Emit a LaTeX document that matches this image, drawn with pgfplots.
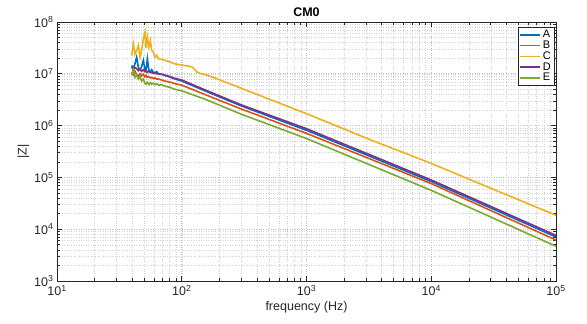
\documentclass[border=0pt]{standalone}
\usepackage{fontspec}
\setmainfont{Liberation Sans}
\usepackage{pgfplots}
\pgfplotsset{compat=1.18}
\definecolor{mA}{rgb}{0,0.447,0.741}
\definecolor{mB}{rgb}{0.85,0.325,0.098}
\definecolor{mC}{rgb}{0.929,0.694,0.125}
\definecolor{mD}{rgb}{0.494,0.184,0.556}
\definecolor{mE}{rgb}{0.466,0.674,0.188}
\definecolor{axc}{rgb}{0.15,0.15,0.15}
\begin{document}
\begin{tikzpicture}
\begin{axis}[name=ax,
  xmode=log, ymode=log, scale only axis, width=499pt, height=259pt,
  xmin=10, xmax=1e5, ymin=1e3, ymax=1e8,
  xtick={10,100,1000,10000,100000},
  xticklabels={10\textsuperscript{1},10\textsuperscript{2},10\textsuperscript{3},10\textsuperscript{4},10\textsuperscript{5}},
  ytick={1e3,1e4,1e5,1e6,1e7,1e8},
  yticklabels={10\textsuperscript{3},10\textsuperscript{4},10\textsuperscript{5},10\textsuperscript{6},10\textsuperscript{7},10\textsuperscript{8}},
  tick label style={font=\fontsize{12.5}{14}\selectfont, text=axc},
  xticklabel style={yshift=-1pt},
  label style={font=\fontsize{12.5}{14}\selectfont, text=axc},
  xlabel style={yshift=2pt},
  ylabel style={yshift=-2pt},
  title style={font=\fontsize{12.5}{14}\selectfont\bfseries, yshift=-4pt},
  title={CM0}, xlabel={frequency (Hz)}, ylabel={|Z|},
  grid=both,
  major grid style={black!25, dotted, line width=0.6pt},
  minor grid style={black!18, dotted, line width=0.5pt},
  axis line style={axc, line width=0.6pt},
  tick style={axc, line width=0.6pt},
  major tick length=5pt, minor tick length=3pt,
  tick align=inside,
  legend style={at={(axis description cs:1,1)}, anchor=north east, xshift=-2pt, yshift=-5pt,
    font=\fontsize{11}{11}\selectfont, draw=axc, inner xsep=1pt, inner ysep=1pt, row sep=-2.3pt},
  legend cell align=left,
  legend image code/.code={\draw[#1] (0pt,0pt) -- (20pt,0pt);},
]
\addplot[mA, line width=1.6pt] coordinates {(39.7,1.45e7) (40.9,1.26e7) (42.2,1.58e7) (43.5,2.09e7) (44.9,1.32e7) (46.3,1.20e7) (47.7,1.38e7) (49.2,1.82e7) (50.7,1.20e7) (51.7,1.12e7) (53.0,1.95e7) (54.6,1.15e7) (56.0,1.10e7) (57.4,1.20e7) (59.2,1.07e7) (61.0,1.05e7) (63.0,1.10e7) (64.9,1.00e7) (69.0,9.77e6) (73.4,9.33e6) (80,8.71e6) (88.3,7.94e6) (100,7.24e6) (150,4.79e6) (300,2.40e6) (1000,8.13e5) (10000,8.32e4) (100000,7.08e3)};
\addlegendentry{A}
\addplot[mB, line width=1.6pt] coordinates {(39.7,1.07e7) (40.9,9.55e6) (42.2,1.12e7) (43.5,9.77e6) (44.9,8.91e6) (46.3,1.00e7) (47.7,9.12e6) (49.2,9.77e6) (50.7,8.71e6) (51.7,9.33e6) (53.0,8.51e6) (54.6,8.91e6) (56.0,8.32e6) (57.4,8.51e6) (59.2,8.13e6) (61.0,8.32e6) (63.0,7.94e6) (64.9,7.94e6) (69.0,7.59e6) (73.4,7.24e6) (80,6.92e6) (88.3,6.46e6) (100,6.03e6) (150,4.07e6) (300,2.09e6) (1000,7.08e5) (10000,7.59e4) (100000,6.17e3)};
\addlegendentry{B}
\addplot[mC, line width=1.6pt] coordinates {(39.7,2.24e7) (40.9,3.80e7) (42.2,2.40e7) (43.5,2.82e7) (44.9,3.55e7) (46.3,2.09e7) (47.7,2.82e7) (49.2,4.79e7) (50.7,6.31e7) (51.7,3.16e7) (53.0,5.13e7) (54.6,3.24e7) (56.0,4.37e7) (57.4,2.82e7) (59.2,2.63e7) (61.0,2.09e7) (63.0,2.29e7) (64.9,1.95e7) (69.0,1.91e7) (73.4,1.82e7) (80,1.70e7) (88.3,1.55e7) (105,1.45e7) (120,1.37e7) (127,1.22e7) (133,1.07e7) (142,1.01e7) (160,9.4e6) (180,8.5e6) (300,5.25e6) (1000,1.70e6) (3000,5.75e5) (10000,1.86e5) (30000,6.17e4) (100000,1.86e4)};
\addlegendentry{C}
\addplot[mD, line width=1.6pt] coordinates {(39.7,1.35e7) (40.9,1.20e7) (42.2,1.32e7) (43.5,1.26e7) (44.9,1.15e7) (46.3,1.23e7) (47.7,1.12e7) (49.2,1.20e7) (50.7,1.10e7) (51.7,1.15e7) (53.0,1.07e7) (54.6,1.12e7) (56.0,1.05e7) (57.4,1.07e7) (59.2,1.02e7) (61.0,1.05e7) (63.0,1.00e7) (64.9,1.00e7) (69.0,9.77e6) (73.4,9.33e6) (80,8.91e6) (88.3,8.13e6) (100,7.59e6) (150,5.01e6) (300,2.51e6) (1000,8.71e5) (10000,8.91e4) (100000,7.59e3)};
\addlegendentry{D}
\addplot[mE, line width=1.6pt] coordinates {(39.7,9.33e6) (40.9,1.20e7) (42.2,8.51e6) (43.5,9.55e6) (44.9,7.94e6) (46.3,8.91e6) (47.7,7.24e6) (49.2,7.94e6) (50.7,6.61e6) (51.7,6.31e6) (53.0,6.92e6) (54.6,6.17e6) (56.0,6.76e6) (57.4,6.31e6) (59.2,6.61e6) (61.0,6.17e6) (63.0,6.46e6) (64.9,6.03e6) (69.0,6.17e6) (73.4,5.75e6) (80,5.50e6) (88.3,5.01e6) (100,4.68e6) (150,3.31e6) (300,1.66e6) (1000,5.62e5) (10000,5.62e4) (100000,4.68e3)};
\addlegendentry{E}
\end{axis}
\path ([xshift=-57pt,yshift=-42pt]ax.south west) rectangle ([xshift=31pt,yshift=22pt]ax.north east);
\end{tikzpicture}
\end{document}
